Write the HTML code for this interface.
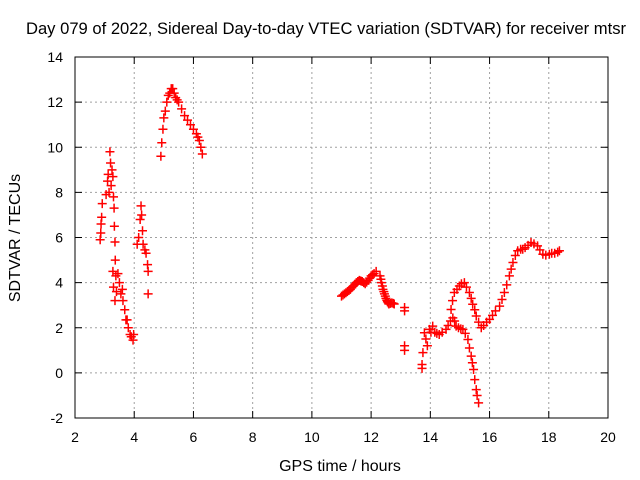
<!DOCTYPE html>
<html><head><meta charset="utf-8"><style>
body{margin:0;background:#fff}
svg{display:block;font-family:"Liberation Sans",sans-serif}
</style></head><body>
<svg id="chart" width="640" height="480" xmlns="http://www.w3.org/2000/svg">
<rect width="640" height="480" fill="#fff"/>
<text x="326" y="34" font-size="16.6" text-anchor="middle">Day 079 of 2022, Sidereal Day-to-day VTEC variation (SDTVAR) for receiver mtsr</text>
<text x="340" y="471" font-size="16" text-anchor="middle">GPS time / hours</text>
<text transform="translate(20,238) rotate(-90)" font-size="16" text-anchor="middle">SDTVAR / TECUs</text>
<g id="grid"></g><g id="ticks"></g><g id="marks"></g>
<rect x="75" y="57" width="533" height="361" fill="none" stroke="#000" stroke-width="1"/>
</svg>
<script>
const xTicks=[2,4,6,8,10,12,14,16,18,20];
const yTicks=[-2,0,2,4,6,8,10,12,14];
const hours=[2.85,2.87,2.88,2.9,2.92,3.05,3.1,3.12,3.15,3.18,3.2,3.22,3.25,3.28,3.3,3.32,3.33,3.35,3.36,3.38,3.4,3.35,3.28,3.3,3.45,3.5,3.55,3.6,3.62,3.68,3.72,3.76,3.8,3.86,3.9,3.96,3.98,
4.1,4.15,4.2,4.23,4.25,4.28,4.3,4.36,4.4,4.45,4.47,4.47,
4.9,4.93,4.97,5.0,5.05,5.1,5.15,5.2,5.25,5.3,5.35,5.4,5.45,5.5,5.6,5.7,5.8,5.9,6.0,6.1,6.15,6.2,6.25,6.3,
11.0,11.05,11.1,11.15,11.2,11.25,11.3,11.35,11.4,11.45,11.5,11.55,11.6,11.65,11.7,11.75,11.8,11.85,11.9,11.95,12.0,12.05,12.1,12.17,
12.3,12.33,12.35,12.38,12.4,12.43,12.45,12.48,12.5,12.53,12.55,12.58,12.6,12.65,12.7,12.75,12.78,
13.13,13.13,13.13,13.13,13.72,13.72,13.75,
13.8,13.85,13.9,13.97,14.02,14.08,14.15,14.22,14.3,14.4,14.53,14.6,14.68,14.76,14.82,14.87,14.95,15.03,15.1,15.18,15.27,15.32,15.38,15.42,15.46,15.5,15.55,15.58,15.63,
14.7,14.75,14.81,14.9,14.98,15.05,15.15,15.22,15.32,15.38,15.43,15.5,15.55,15.63,15.72,15.8,15.9,16.0,16.1,16.2,16.34,16.42,16.5,16.58,16.67,16.73,16.79,16.87,16.95,17.05,17.12,17.2,17.3,17.4,17.5,17.62,17.7,17.8,17.9,18.02,18.1,18.2,18.3,18.36];
const values=[5.9,6.2,6.6,6.9,7.5,7.9,8.5,8.8,8.0,9.8,9.3,8.3,9.0,8.7,7.8,7.3,6.5,5.8,5.0,4.3,3.6,3.2,4.5,3.8,4.4,4.0,3.5,3.7,3.2,2.8,2.35,2.35,2.0,1.7,1.6,1.45,1.7,
5.7,6.0,6.8,7.4,7.0,6.3,5.7,5.45,5.3,4.8,4.5,3.5,
9.6,10.2,10.8,11.3,11.6,12.0,12.3,12.4,12.6,12.6,12.4,12.2,12.1,12.0,11.7,11.4,11.2,11.0,10.8,10.6,10.45,10.3,10.0,9.7,
3.4,3.45,3.5,3.55,3.6,3.65,3.7,3.78,3.85,3.93,4.0,4.05,4.1,4.08,4.05,4.0,3.95,4.02,4.1,4.2,4.3,4.35,4.4,4.5,
4.3,4.15,4.0,3.85,3.7,3.6,3.5,3.4,3.3,3.22,3.15,3.1,3.05,3.08,3.1,3.08,3.05,
2.9,2.75,1.2,1.0,0.37,0.2,0.9,
1.78,1.5,1.2,1.93,1.8,2.07,1.8,1.75,1.7,1.8,1.93,2.1,2.3,2.44,2.3,2.07,2.0,1.95,1.93,1.75,1.48,1.1,0.74,0.45,0.15,-0.3,-0.74,-1.0,-1.33,
2.81,3.2,3.56,3.7,3.85,3.95,4.0,3.8,3.56,3.3,3.04,2.8,2.52,2.25,2.0,2.1,2.25,2.37,2.55,2.75,2.96,3.25,3.56,3.9,4.3,4.6,4.89,5.2,5.41,5.48,5.48,5.55,5.65,5.78,5.72,5.63,5.45,5.26,5.22,5.26,5.3,5.3,5.35,5.41];
const X=h=>75+(h-2)*533/18;
const Y=v=>418-(v+2)*361/16;
const NS="http://www.w3.org/2000/svg";
const grid=document.getElementById('grid'),ticks=document.getElementById('ticks'),marks=document.getElementById('marks');
function mk(tag,attrs,parent){const e=document.createElementNS(NS,tag);for(const k in attrs)e.setAttribute(k,attrs[k]);parent.appendChild(e);return e;}
xTicks.forEach(t=>{const x=X(t);
 if(t>2&&t<20){const g=mk('line',{x1:x,x2:x,y1:57,y2:418,stroke:'#a0a0a0','stroke-dasharray':'2,3'},grid);
 
 }
 mk('line',{x1:x,x2:x,y1:418,y2:411,stroke:'#000'},ticks);mk('line',{x1:x,x2:x,y1:57,y2:64,stroke:'#000'},ticks);
 const l=mk('text',{x:x,y:442,'font-size':14,'text-anchor':'middle'},ticks);l.textContent=t;
 
 });
yTicks.forEach(t=>{const y=Y(t);
 if(t>-2&&t<14){const g=mk('line',{x1:75,x2:608,y1:y,y2:y,stroke:'#a0a0a0','stroke-dasharray':'2,3'},grid);
 
 }
 mk('line',{x1:75,x2:82,y1:y,y2:y,stroke:'#000'},ticks);mk('line',{x1:608,x2:601,y1:y,y2:y,stroke:'#000'},ticks);
 const l=mk('text',{x:63,y:y+5,'font-size':14,'text-anchor':'end'},ticks);l.textContent=t;
 
 });
hours.forEach((h,i)=>{const x=X(h),y=Y(values[i]);
 const p=mk('path',{d:`M${x-4.5},${y}H${x+4.5}M${x},${y-4.5}V${y+4.5}`,stroke:'#f00','stroke-width':1.5,fill:'none'},marks);
 
 });
</script>
</body></html>
